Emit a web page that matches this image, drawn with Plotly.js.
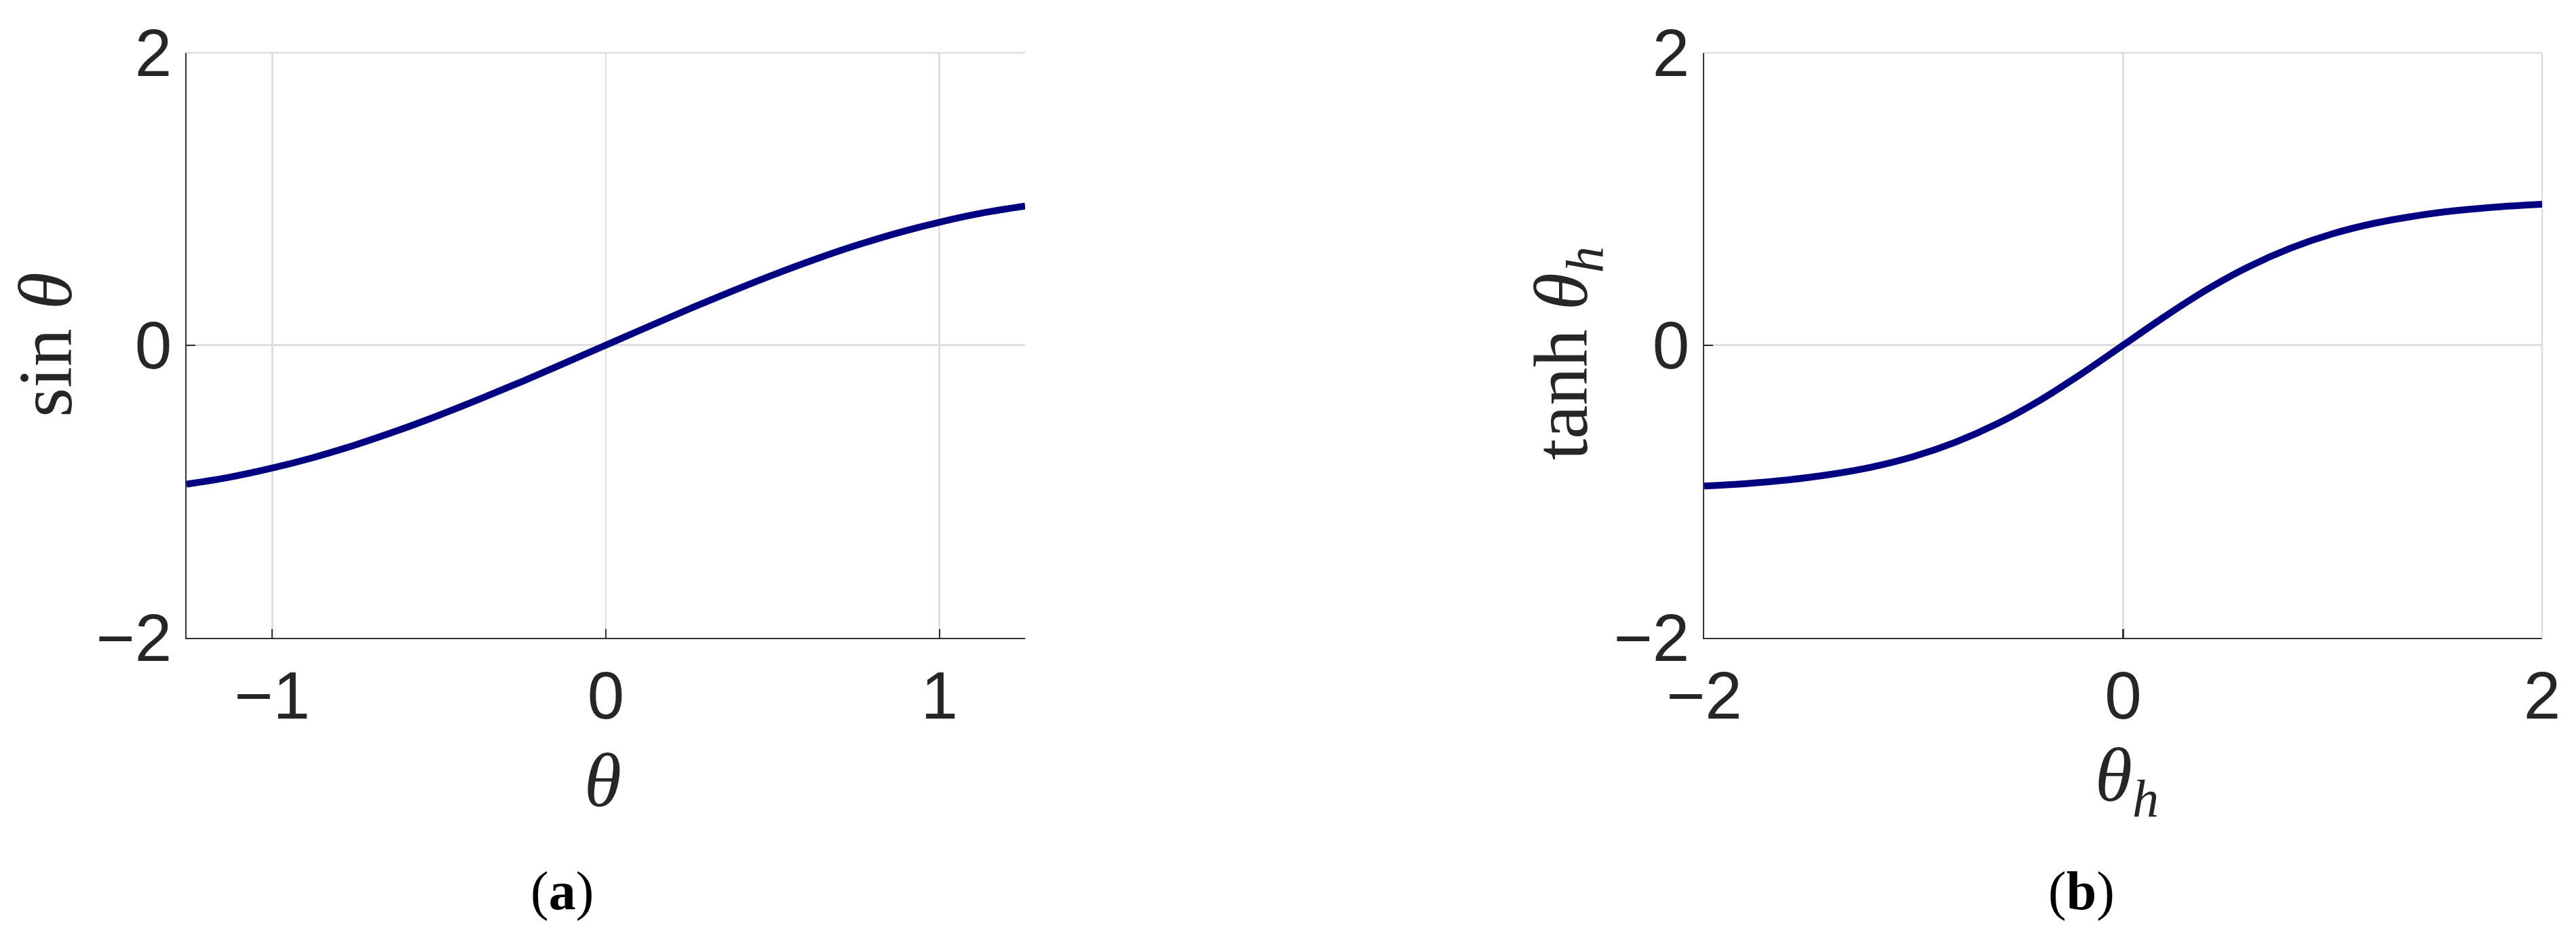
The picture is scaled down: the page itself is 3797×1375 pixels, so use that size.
<!DOCTYPE html>
<html>
<head>
<meta charset="utf-8">
<script src="https://cdn.plot.ly/plotly-3.0.1.min.js"></script>
<style>html,body{margin:0;padding:0;background:#fff;}#chart{width:3797px;height:1375px;}</style>
</head>
<body>
<div id="chart"></div>
<script>
// Panel (a): sin θ
const thetaA = [-1.2566, -1.1310, -1.0053, -0.8796, -0.7540, -0.6283, -0.5027, -0.3770, -0.2513, -0.1257, 0,
                 0.1257, 0.2513, 0.3770, 0.5027, 0.6283, 0.7540, 0.8796, 1.0053, 1.1310, 1.2566];
const sinA = [-0.951, -0.905, -0.844, -0.771, -0.685, -0.588, -0.482, -0.368, -0.249, -0.125, 0,
               0.125, 0.249, 0.368, 0.482, 0.588, 0.685, 0.771, 0.844, 0.905, 0.951];
// Panel (b): tanh θh
const thetaB = [-2.0, -1.8, -1.6, -1.4, -1.2, -1.0, -0.8, -0.6, -0.4, -0.2, 0,
                 0.2, 0.4, 0.6, 0.8, 1.0, 1.2, 1.4, 1.6, 1.8, 2.0];
const tanhB = [-0.964, -0.947, -0.922, -0.885, -0.834, -0.762, -0.664, -0.537, -0.380, -0.197, 0,
                0.197, 0.380, 0.537, 0.664, 0.762, 0.834, 0.885, 0.922, 0.947, 0.964];
// Tick labels
const xTicksA = [-1, 0, 1];
const xTickTextA = ['\u22121', '0', '1'];
const xTicksB = [-2, 0, 2];
const xTickTextB = ['\u22122', '0', '2'];
const yTicks = [-2, 0, 2];
const yTickText = ['\u22122', '0', '2'];

const W = 3797, H = 1375;
const lineColor = '#000080';
const axCol = '#262626';
const gridCol = '#dfdfdf';
const tickFont = {family: 'Liberation Sans, Arial, sans-serif', size: 98, color: axCol};
const serif = 'Liberation Serif, Times New Roman, serif';

function px(x) { return x / W; }
function py(y) { return 1 - y / H; }

const yDom = [py(939.5), py(77.8)];

const baseAxis = {
  showgrid: true, gridcolor: gridCol, gridwidth: 2.7,
  showline: true, linecolor: '#333333', linewidth: 2.2,
  ticks: 'inside', ticklen: 13, tickwidth: 2.2, tickcolor: '#333333',
  tickfont: tickFont, zeroline: false, mirror: false, fixedrange: true
};

const traces = [
  {x: thetaA, y: sinA, type: 'scatter', mode: 'lines', xaxis: 'x', yaxis: 'y',
   line: {color: lineColor, width: 10, shape: 'spline'}, hoverinfo: 'skip'},
  {x: thetaB, y: tanhB, type: 'scatter', mode: 'lines', xaxis: 'x2', yaxis: 'y2',
   line: {color: lineColor, width: 10, shape: 'spline'}, hoverinfo: 'skip'}
];

// Grid lines that sit on the top/right edges of the plot areas
const edgeGrid = {color: gridCol, width: 2.7};
const shapes = [
  {type: 'line', xref: 'x domain', yref: 'y domain', x0: 0, x1: 1, y0: 1, y1: 1, line: edgeGrid, layer: 'below'},
  {type: 'line', xref: 'x2 domain', yref: 'y2 domain', x0: 0, x1: 1, y0: 1, y1: 1, line: edgeGrid, layer: 'below'},
  {type: 'line', xref: 'x2 domain', yref: 'y2 domain', x0: 1, x1: 1, y0: 0, y1: 1, line: edgeGrid, layer: 'below'}
];

const layout = {
  width: W, height: H,
  margin: {l: 0, r: 0, t: 0, b: 0},
  paper_bgcolor: '#ffffff', plot_bgcolor: '#ffffff',
  showlegend: false,
  shapes: shapes,
  xaxis: Object.assign({}, baseAxis, {domain: [px(275), px(1511)], range: [-1.2566, 1.2566],
    tickmode: 'array', tickvals: xTicksA, ticktext: xTickTextA, anchor: 'y'}),
  yaxis: Object.assign({}, baseAxis, {domain: yDom, range: [-2, 2],
    tickmode: 'array', tickvals: yTicks, ticktext: yTickText, anchor: 'x'}),
  xaxis2: Object.assign({}, baseAxis, {domain: [px(2512), px(3747)], range: [-2, 2],
    tickmode: 'array', tickvals: xTicksB, ticktext: xTickTextB, anchor: 'y2'}),
  yaxis2: Object.assign({}, baseAxis, {domain: yDom, range: [-2, 2],
    tickmode: 'array', tickvals: yTicks, ticktext: yTickText, anchor: 'x2'}),
  annotations: [
    {text: 'sin <i>θ</i>', x: px(67), y: py(508), xref: 'paper', yref: 'paper',
     textangle: -90, showarrow: false, xanchor: 'center', yanchor: 'middle',
     font: {family: serif, size: 112, color: axCol}},
    {text: '<i>θ</i>', x: px(888), y: py(1150), xref: 'paper', yref: 'paper',
     showarrow: false, xanchor: 'center', yanchor: 'middle',
     font: {family: serif, size: 112, color: axCol}},
    {text: '(<b>a</b>)', x: px(828), y: py(1313), xref: 'paper', yref: 'paper',
     showarrow: false, xanchor: 'center', yanchor: 'middle',
     font: {family: serif, size: 80, color: '#000000'}},
    {text: 'tanh <i>θ<sub>h</sub></i>', x: px(2310), y: py(521), xref: 'paper', yref: 'paper',
     textangle: -90, showarrow: false, xanchor: 'center', yanchor: 'middle',
     font: {family: serif, size: 112, color: axCol}},
    {text: '<i>θ<sub>h</sub></i>', x: px(3135), y: py(1150), xref: 'paper', yref: 'paper',
     showarrow: false, xanchor: 'center', yanchor: 'middle',
     font: {family: serif, size: 112, color: axCol}},
    {text: '(<b>b</b>)', x: px(3068), y: py(1313), xref: 'paper', yref: 'paper',
     showarrow: false, xanchor: 'center', yanchor: 'middle',
     font: {family: serif, size: 80, color: '#000000'}}
  ]
};

Plotly.newPlot('chart', traces, layout, {staticPlot: true, displayModeBar: false});
</script>
</body>
</html>
